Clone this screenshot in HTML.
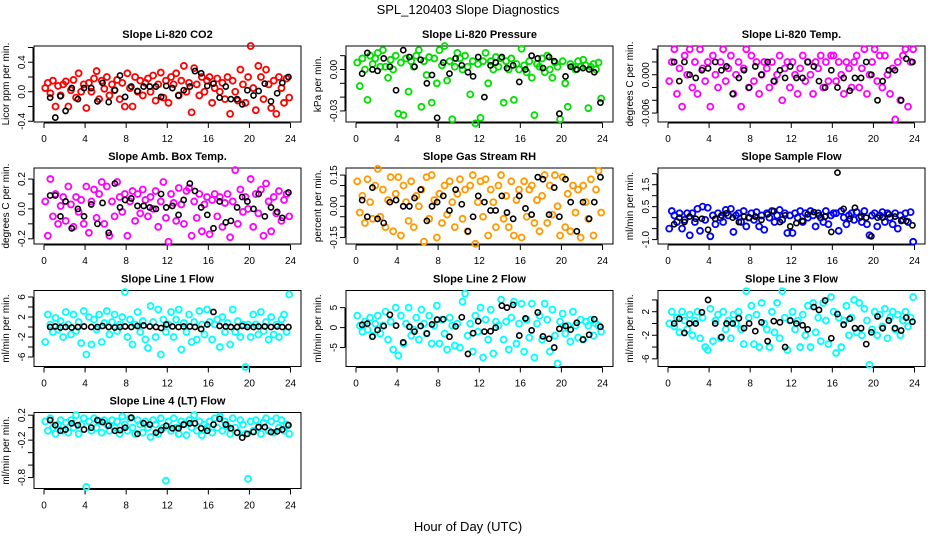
<!DOCTYPE html>
<html><head><meta charset="utf-8">
<style>
html,body{margin:0;padding:0;background:#fff;}
svg{display:block;font-family:"Liberation Sans",sans-serif;}
</style></head>
<body>
<svg id="chart" width="936" height="540" viewBox="0 0 936 540" xmlns="http://www.w3.org/2000/svg">
<text x="468" y="14" text-anchor="middle" font-size="13">SPL_120403  Slope Diagnostics</text>
<text x="468" y="531" text-anchor="middle" font-size="13">Hour of Day (UTC)</text>
</svg>
<script>
const hoursC=[0.12,0.37,0.62,0.87,1.12,1.37,1.62,1.87,2.12,2.37,2.62,2.87,3.12,3.37,3.62,3.87,4.12,4.37,4.62,4.87,5.12,5.37,5.62,5.87,6.12,6.37,6.62,6.87,7.12,7.37,7.62,7.87,8.12,8.37,8.62,8.87,9.12,9.37,9.62,9.87,10.12,10.37,10.62,10.87,11.12,11.37,11.62,11.87,12.12,12.37,12.62,12.87,13.12,13.37,13.62,13.87,14.12,14.37,14.62,14.87,15.12,15.37,15.62,15.87,16.12,16.37,16.62,16.87,17.12,17.37,17.62,17.87,18.12,18.37,18.62,18.87,19.12,19.37,19.62,19.87,20.12,20.37,20.62,20.87,21.12,21.37,21.62,21.87,22.12,22.37,22.62,22.87,23.12,23.37,23.62,23.87];
const hoursK=[0.6,1.1,1.6,2.1,2.7,3.3,3.9,4.6,5.2,5.7,6.3,6.9,7.4,7.9,8.5,9.1,9.7,10.3,10.9,11.4,11.9,12.5,13.1,13.6,14.2,14.7,15.3,15.9,16.5,17.1,17.7,18.2,18.8,19.3,19.8,20.4,20.9,21.5,22.1,22.7,23.2,23.8];
const xTicks=[0,4,8,12,16,20,24];

const co2C=[0.05,0.12,-0.02,0.15,-0.2,0.08,-0.05,0.1,0.14,-0.2,0.02,0.16,-0.08,0.25,0.0,0.1,-0.22,0.12,0.0,0.18,0.28,-0.1,0.15,0.04,0.2,-0.05,0.1,0.02,0.16,-0.1,0.12,-0.2,0.25,0.05,-0.2,0.2,0.0,0.15,-0.05,0.12,0.18,0.0,0.22,-0.12,0.1,0.26,-0.08,0.15,-0.15,0.2,0.1,0.25,-0.05,0.15,0.35,0.0,0.12,-0.28,0.32,0.1,-0.05,0.2,0.0,0.15,0.2,-0.15,0.05,0.18,0.0,0.12,-0.1,0.2,-0.3,0.15,0.0,-0.12,0.3,0.1,-0.15,0.2,0.62,0.05,-0.25,0.35,0.2,-0.1,0.3,0.1,-0.22,0.15,-0.3,0.2,0.05,-0.15,0.18,-0.08];
const co2K=[-0.08,-0.35,-0.06,-0.26,0.05,-0.1,0.05,0.05,-0.13,0.12,-0.14,0.02,0.22,-0.07,0.07,0.01,0.07,0.07,0.07,-0.07,0.08,0.05,-0.05,0.02,0.07,0.28,0.25,0.08,0.11,-0.08,0.07,-0.1,-0.1,-0.17,0.02,-0.05,0.01,0.11,-0.13,-0.02,0.12,0.2];
const presC=[0.005,-0.012,0.008,0.0,-0.022,0.01,0.004,0.008,0.012,0.002,0.014,0.002,-0.006,0.007,0.0,0.01,-0.032,0.005,-0.033,0.008,-0.016,0.006,0.002,0.01,0.014,-0.027,0.006,-0.004,0.009,-0.024,0.008,-0.01,0.014,0.003,0.017,-0.008,0.006,-0.036,0.002,0.012,0.008,0.0,0.01,0.002,-0.018,0.006,-0.039,0.004,-0.035,0.006,0.012,-0.01,0.006,0.0,0.009,0.002,0.008,-0.024,0.006,0.0,0.008,-0.022,0.004,0.0,0.015,0.003,-0.002,0.006,-0.006,-0.033,0.004,0.002,0.008,-0.002,0.01,0.0,-0.006,0.005,0.002,-0.036,0.006,-0.01,-0.027,0.004,0.002,0.0,0.006,0.002,0.007,0.003,-0.028,0.002,0.004,0.0,0.005,-0.021];
const presK=[-0.003,0.012,0.0,-0.001,0.008,0.002,-0.015,0.014,0.009,0.002,0.007,-0.01,-0.004,-0.035,0.005,-0.003,0.008,0.003,-0.002,-0.005,0.009,-0.02,0.003,0.005,0.009,0.001,0.003,-0.009,0.0,0.01,0.008,0.001,0.009,0.006,-0.032,-0.005,0.002,0.0,0.001,0.0,-0.002,-0.024];
const tempC=[-0.001,0.002,0.004,-0.003,0.001,-0.005,0.003,0.0,0.004,-0.002,0.002,-0.003,0.004,0.001,-0.001,0.002,-0.005,0.003,0.0,-0.002,0.002,0.004,-0.001,0.001,0.003,-0.003,0.0,0.002,-0.005,0.001,0.004,-0.002,0.003,-0.001,0.002,-0.003,0.0,0.002,0.001,-0.002,0.002,-0.001,0.0,0.003,-0.004,0.001,0.002,-0.002,0.002,0.0,-0.003,0.001,0.003,-0.001,0.002,0.0,-0.003,0.002,0.001,0.003,-0.002,0.002,-0.001,0.003,0.003,-0.001,0.002,0.0,-0.003,0.002,0.001,-0.002,0.002,0.003,-0.002,0.001,0.004,-0.003,0.0,0.002,0.004,-0.001,0.003,-0.002,0.003,0.0,-0.003,0.001,-0.007,0.002,-0.004,0.003,0.004,-0.005,0.002,0.004];
const tempK=[0.002,-0.001,0.002,0.0,-0.0005,0.0007,0.001,0.002,0.0007,0.0013,-0.003,-0.0005,0.0007,-0.002,0.0013,0.0,0.002,-0.001,0.0007,-0.0005,0.0013,-0.0005,-0.0005,0.002,0.0013,-0.001,-0.002,0.0007,-0.002,-0.0005,-0.0025,-0.0005,-0.0005,0.002,0.0,-0.004,-0.001,0.0007,0.0007,-0.004,0.0025,0.002];
const ambC=[0.05,-0.18,0.2,-0.05,0.1,-0.1,0.02,0.08,-0.08,0.15,0.03,-0.12,0.08,-0.02,0.06,-0.1,0.15,-0.16,0.05,0.13,-0.06,0.1,0.18,-0.1,0.15,-0.18,0.05,-0.05,0.18,0.08,-0.02,0.1,-0.18,0.05,0.12,-0.08,0.1,-0.03,0.13,0.06,-0.05,0.08,0.0,0.12,-0.12,0.05,0.18,-0.06,-0.22,0.1,0.04,-0.08,0.14,0.03,-0.1,0.12,0.14,-0.18,0.05,-0.06,0.1,-0.15,0.03,0.08,-0.17,0.06,0.1,-0.05,0.08,-0.12,0.04,0.1,-0.19,0.05,0.26,-0.1,0.13,-0.02,0.08,0.0,0.2,-0.12,0.1,-0.03,0.13,-0.18,0.17,0.05,-0.15,0.08,-0.03,0.12,-0.08,0.06,0.1,-0.05];
const ambK=[0.09,0.09,-0.05,0.05,-0.13,0.0,-0.05,0.03,-0.1,0.04,-0.16,0.17,0.01,0.06,0.07,0.02,0.02,0.01,0.0,0.1,0.01,0.02,-0.04,0.06,0.17,0.12,0.01,-0.04,-0.13,0.05,-0.09,-0.08,0.01,0.08,0.05,0.0,0.1,-0.05,0.01,-0.02,-0.06,0.11];
const rhC=[0.12,-0.03,0.05,-0.08,0.13,0.02,-0.06,0.1,0.18,-0.05,0.08,-0.1,0.03,0.14,-0.12,0.06,0.14,-0.14,0.1,0.02,-0.07,0.12,-0.1,0.05,0.0,0.08,-0.17,0.14,-0.06,0.15,0.03,-0.15,0.06,-0.08,0.1,-0.04,0.12,0.02,-0.1,0.06,0.13,-0.06,0.08,-0.12,0.1,0.15,-0.18,0.02,0.12,-0.05,0.13,-0.14,0.08,0.02,-0.1,0.1,0.15,-0.06,0.05,-0.1,0.12,-0.14,0.03,0.08,-0.15,0.12,-0.05,0.08,0.1,-0.08,0.03,-0.12,0.05,0.15,-0.08,0.1,-0.04,0.15,0.0,-0.14,0.14,-0.1,0.06,-0.12,0.1,-0.03,0.08,-0.15,0.1,0.02,-0.06,0.13,-0.14,0.08,0.17,-0.03];
const rhK=[0.03,-0.05,0.09,-0.06,-0.08,0.02,0.03,0.0,0.0,0.04,0.08,-0.07,0.0,0.02,0.05,-0.02,0.08,0.01,-0.12,-0.05,0.05,0.02,-0.02,-0.02,0.05,-0.03,-0.06,0.05,-0.01,-0.04,0.14,0.13,-0.04,0.09,-0.05,0.13,0.02,-0.12,0.02,-0.06,0.02,0.14];
const flowC=[-0.5,0.3,0.1,-0.2,0.2,-0.5,-0.1,0.2,-0.8,0.2,-0.2,0.4,-0.6,0.5,-0.1,0.45,-0.85,0.1,-0.3,0.2,0.0,-0.2,0.35,0.1,0.4,-0.65,0.1,0.2,-0.2,0.3,-0.4,0.0,0.2,-0.1,0.25,-0.4,0.1,-0.55,0.2,0.0,0.3,-0.2,0.1,0.35,-0.1,0.2,-0.7,0.1,-0.7,0.2,0.0,0.3,-0.2,0.2,0.0,0.3,0.1,-0.4,0.2,0.0,-0.2,0.3,-0.3,0.1,0.2,0.2,-0.6,0.3,0.0,-0.3,0.1,0.2,-0.1,0.25,0.0,-0.2,0.3,-0.3,-0.8,0.1,0.2,-0.4,0.1,0.25,-0.2,0.2,0.0,-0.3,0.2,-0.5,0.1,-0.1,0.2,-0.2,0.25,-1.1];
const flowK=[-0.3,0.0,-0.2,0.05,-0.05,-0.05,-0.55,-0.05,0.1,0.2,0.0,-0.2,0.05,0.0,0.05,-0.1,0.15,0.3,-0.2,0.1,-0.4,-0.25,-0.15,0.15,0.25,0.1,0.05,-0.65,2.05,0.4,-0.05,0.45,0.05,0.0,-0.85,0.0,0.0,0.15,0.05,-0.15,-0.15,-0.35];
const l1C=[-3,2.5,0.5,-1,1.8,-0.5,1.2,-2,3,0.5,-1.5,2.5,-0.8,1.0,-3.2,3.2,-5.5,2.0,-3.5,1.5,-0.5,2.5,-3.0,0.8,3.2,-1.5,1.0,2.5,-0.8,0.5,2.0,7.0,-2.0,1.5,-3.5,0.5,3.0,-1.0,1.2,-2.5,-4.2,4.2,1.0,-2.0,3.5,-5.5,1.5,-1.0,0.5,3.0,-2.0,1.5,3.5,-4.5,0.8,-1.0,2.5,-3.0,1.0,-2.5,3.2,0.5,-1.5,3.5,1.0,-2.5,0.5,1.5,-4.0,2.0,-1.0,0.8,-3.5,3.5,-1.0,1.2,-2.0,0.5,-8.0,0.5,-2.0,2.5,0.5,-1.5,3.0,-0.8,1.0,-2.5,2.0,-1.5,0.5,-2.0,1.5,2.5,-1.0,6.5];
const l1K=[0.0,0.1,-0.1,0.0,-0.1,0.0,0.1,0.0,0.0,0.2,0.0,-0.1,0.0,0.1,0.0,0.2,0.3,0.1,0.0,-0.2,0.5,0.1,0.0,0.1,0.1,0.0,-0.4,0.5,3.0,0.2,0.1,0.0,0.0,0.2,0.0,0.0,0.1,0.1,0.0,0.1,0.0,0.0];
const l2C=[3,0.5,-1,1.5,-0.5,2.5,-2,1,3,-1.5,0.5,4,-3,1.5,-5.5,5,-7,3,-4,1,5,-2,-0.5,2.5,-3,4.5,1,-1.5,3,-4,0.5,5.5,-4,2,-1.5,-5.5,2.5,0.5,-4.5,1,-5,6.5,8.5,-2,1,-6,3,-1,5,-7.5,2,-3,4.5,-6.5,1.5,0.5,7,-3,1.5,-5.5,2.5,6.5,-4,1,6,-6,2,-2.5,6,-7.5,1,3,-3,6,2,-6,4.5,-2,-9,1.5,3.5,-1.5,0.5,-3.5,4,0.5,-2.5,2,-3,1.5,0.5,2,-2,1,0.5,-1];
const l2K=[0.7,1.0,-2.3,-0.6,0.4,3.2,0.5,-3.7,0.2,-1.0,0.4,-1.5,0.8,2.0,2.1,-2.3,0.3,2.6,-6.6,-1.4,1.6,-1.0,-0.9,0.0,5.5,5.0,5.7,-2.0,2.3,-0.7,3.8,-2.2,-2.8,-5.0,-0.3,0.4,-0.5,1.2,-3.0,-1.8,2.1,0.2];
const l3C=[0,2,-0.5,1,-1.5,2,0.5,-1,1.5,-2,0.5,2,-2.5,1,-4,-4.5,2.5,-3,0.5,1.5,-2.5,2,-1,0.5,-2.5,1.5,0,2,-1,-3.5,5.5,1,3,-3.5,1.5,-4,3.5,0,-1,-4,2,-1.5,3.5,-2.5,5.5,1,-4.5,0.5,2,-1,0.5,-4,1.5,-2,3,-4,3.5,-1.5,1,-3,3.5,0.5,-3.5,4.5,2,-5,1,-4,0.5,3,-2,1,4,-1.5,3.5,-2,2.5,0.5,-7,-1,2,-2,1.5,-0.5,2.5,-2.5,1,2,-1,1.5,-2,0.5,2,-0.5,1,4.5];
const l3K=[0.0,0.8,-1.6,0.0,0.0,1.9,4.0,0.0,-2.3,0.0,0.0,0.9,-0.8,0.0,-1.3,0.2,-3.0,0.4,0.2,-4.0,0.5,0.0,-0.3,-1.0,2.8,2.3,3.9,-2.5,1.6,-0.2,0.8,-0.8,-0.8,-3.5,-1.5,1.2,-0.8,0.5,-0.8,-1.2,1.0,0.3];
const l4C=[0.1,-0.05,0.15,0.0,-0.1,0.05,0.12,-0.05,0.08,-0.08,0.12,0.0,0.2,-0.1,0.05,0.15,-0.95,0.1,-0.05,0.15,0.0,0.1,-0.08,0.12,0.05,-0.05,0.12,0.0,0.1,-0.1,0.18,0.05,-0.05,0.15,0.0,-0.1,0.12,0.05,-0.08,0.1,0.0,-0.15,0.12,0.05,-0.1,0.15,0.0,-0.85,0.1,-0.05,0.15,0.0,-0.1,0.1,0.05,-0.12,0.12,0.0,0.2,-0.05,0.1,-0.12,0.05,0.0,0.1,-0.08,0.15,0.0,0.18,-0.05,0.1,0.02,-0.1,0.15,0.0,-0.08,0.12,0.05,-0.1,-0.82,0.1,-0.05,0.12,0.0,-0.1,0.08,0.15,-0.05,0.1,-0.08,0.15,0.0,0.12,-0.05,0.05,-0.1];
const l4K=[0.12,0.04,-0.05,-0.03,0.07,0.04,-0.03,0.0,0.12,0.09,0.03,-0.05,-0.04,0.0,0.16,-0.1,0.07,0.05,-0.08,-0.04,0.03,-0.01,-0.01,0.05,0.07,0.07,-0.01,-0.05,0.05,0.14,0.05,-0.01,-0.08,-0.16,-0.1,-0.07,0.01,0.01,-0.07,-0.06,-0.03,0.04];

const panels=[
 {name:'co2',title:'Slope Li-820 CO2',ylab:'Licor ppm per min.',col:0,row:0,ymin:-0.41,ymax:0.62,ticks:[-0.4,-0.2,0,0.2,0.4,0.6],labels:['-0.4','0.0','0.4'],labelAt:[-0.4,0,0.4],color:'#ff0000',c:co2C,k:co2K},
 {name:'pressure',title:'Slope Li-820 Pressure',ylab:'kPa per min.',col:1,row:0,ymin:-0.038,ymax:0.017,ticks:[-0.03,-0.02,-0.01,0,0.01],labels:['-0.03','0.00'],labelAt:[-0.03,0],color:'#00e000',c:presC,k:presK},
 {name:'temp',title:'Slope Li-820 Temp.',ylab:'degrees C per min.',col:2,row:0,ymin:-0.0074,ymax:0.0045,ticks:[-0.006,-0.004,-0.002,0,0.002,0.004],labels:['-0.006','0.000'],labelAt:[-0.006,0],color:'#ff00ff',c:tempC,k:tempK},
 {name:'amb-box-temp',title:'Slope Amb. Box Temp.',ylab:'degrees C per min.',col:0,row:1,ymin:-0.235,ymax:0.274,ticks:[-0.2,-0.1,0,0.1,0.2],labels:['-0.2','0.0','0.2'],labelAt:[-0.2,0,0.2],color:'#ff00ff',c:ambC,k:ambK},
 {name:'gas-stream-rh',title:'Slope Gas Stream RH',ylab:'percent per min.',col:1,row:1,ymin:-0.181,ymax:0.184,ticks:[-0.15,-0.1,-0.05,0,0.05,0.1,0.15],labels:['-0.15','0.00','0.15'],labelAt:[-0.15,0,0.15],color:'#ff9900',c:rhC,k:rhK},
 {name:'sample-flow',title:'Slope Sample Flow',ylab:'ml/min per min.',col:2,row:1,ymin:-1.2,ymax:2.26,ticks:[-1,-0.5,0,0.5,1,1.5,2],labels:['-1.0','0.5','1.5'],labelAt:[-1,0.5,1.5],color:'#0000ff',c:flowC,k:flowK},
 {name:'line1-flow',title:'Slope Line 1 Flow',ylab:'ml/min per min.',col:0,row:2,ymin:-7.9,ymax:7.3,ticks:[-6,-4,-2,0,2,4,6],labels:['-6','-2','2','6'],labelAt:[-6,-2,2,6],color:'#00ffff',c:l1C,k:l1K},
 {name:'line2-flow',title:'Slope Line 2 Flow',ylab:'ml/min per min.',col:1,row:2,ymin:-9.75,ymax:9.3,ticks:[-5,0,5],labels:['-5','0','5'],labelAt:[-5,0,5],color:'#00ffff',c:l2C,k:l2K},
 {name:'line3-flow',title:'Slope Line 3 Flow',ylab:'ml/min per min.',col:2,row:2,ymin:-7.3,ymax:5.6,ticks:[-6,-4,-2,0,2,4],labels:['-6','-2','2'],labelAt:[-6,-2,2],color:'#00ffff',c:l3C,k:l3K},
 {name:'line4-flow',title:'Slope Line 4 (LT) Flow',ylab:'ml/min per min.',col:0,row:3,ymin:-0.975,ymax:0.243,ticks:[-0.8,-0.6,-0.4,-0.2,0,0.2],labels:['-0.8','-0.2','0.2'],labelAt:[-0.8,-0.2,0.2],color:'#00ffff',c:l4C,k:l4K}
];
const colLeft=[34,346,658], boxW=267, rowTop=[46,168,290.5,412.5], boxH=76;
const NS='http://www.w3.org/2000/svg';
const svg=document.getElementById('chart');
function mk(tag,attrs,parent){const e=document.createElementNS(NS,tag);for(const a in attrs)e.setAttribute(a,attrs[a]);(parent||svg).appendChild(e);return e;}
panels.forEach(p=>{
  const L=colLeft[p.col],T=rowTop[p.row],R=L+boxW,B=T+boxH;
  const g=mk('g',{});
  
  
  const xs=h=>L+10+(h-0)*(boxW-20.5)/24;
  const ys=v=>B-(v-p.ymin)/(p.ymax-p.ymin)*boxH;
  const t=mk('text',{x:(L+R)/2,y:T-8,'text-anchor':'middle','font-size':'11','font-weight':'bold'},g);t.textContent=p.title;
  
  
  const box=mk('rect',{x:L,y:T,width:boxW,height:boxH,fill:'none',stroke:'#000','stroke-width':1},g);
  
  
  const xa=mk('g',{},g);
  
  
  mk('line',{x1:xs(0),x2:xs(24),y1:B+1,y2:B+1,stroke:'#000'},xa);
  xTicks.forEach(h=>{mk('line',{x1:xs(h),x2:xs(h),y1:B+1,y2:B+6,stroke:'#000'},xa);
    const tl=mk('text',{x:xs(h),y:B+20,'text-anchor':'middle','font-size':'10'},xa);tl.textContent=h;
    
    });
  const ya=mk('g',{},g);
  
  
  mk('line',{x1:L-1,x2:L-1,y1:ys(p.ticks[0]),y2:ys(p.ticks[p.ticks.length-1]),stroke:'#000'},ya);
  p.ticks.forEach(v=>mk('line',{x1:L-6,x2:L-1,y1:ys(v),y2:ys(v),stroke:'#000'},ya));
  p.labels.forEach((s,i)=>{const yy=ys(p.labelAt[i]);
    const tl=mk('text',{x:L-9,y:yy,'text-anchor':'middle','font-size':'10',transform:`rotate(-90 ${L-9} ${yy})`},ya);tl.textContent=s;
    
    });
  const yl=mk('text',{x:L-25,y:(T+B)/2,'text-anchor':'middle','font-size':'10',transform:`rotate(-90 ${L-25} ${(T+B)/2})`},g);yl.textContent=p.ylab;
  
  
  const gc=mk('g',{fill:'none',stroke:p.color,'stroke-width':1.8},g);
  
  
  p.c.forEach((v,i)=>{const c=mk('circle',{cx:xs(hoursC[i]),cy:ys(v),r:3},gc);
    
    });
  const gk=mk('g',{fill:'none',stroke:'#000','stroke-width':1.6},g);
  
  
  p.k.forEach((v,i)=>{const c=mk('circle',{cx:xs(hoursK[i]),cy:ys(v),r:2.6},gk);
    
    });
});
</script>
</body></html>
